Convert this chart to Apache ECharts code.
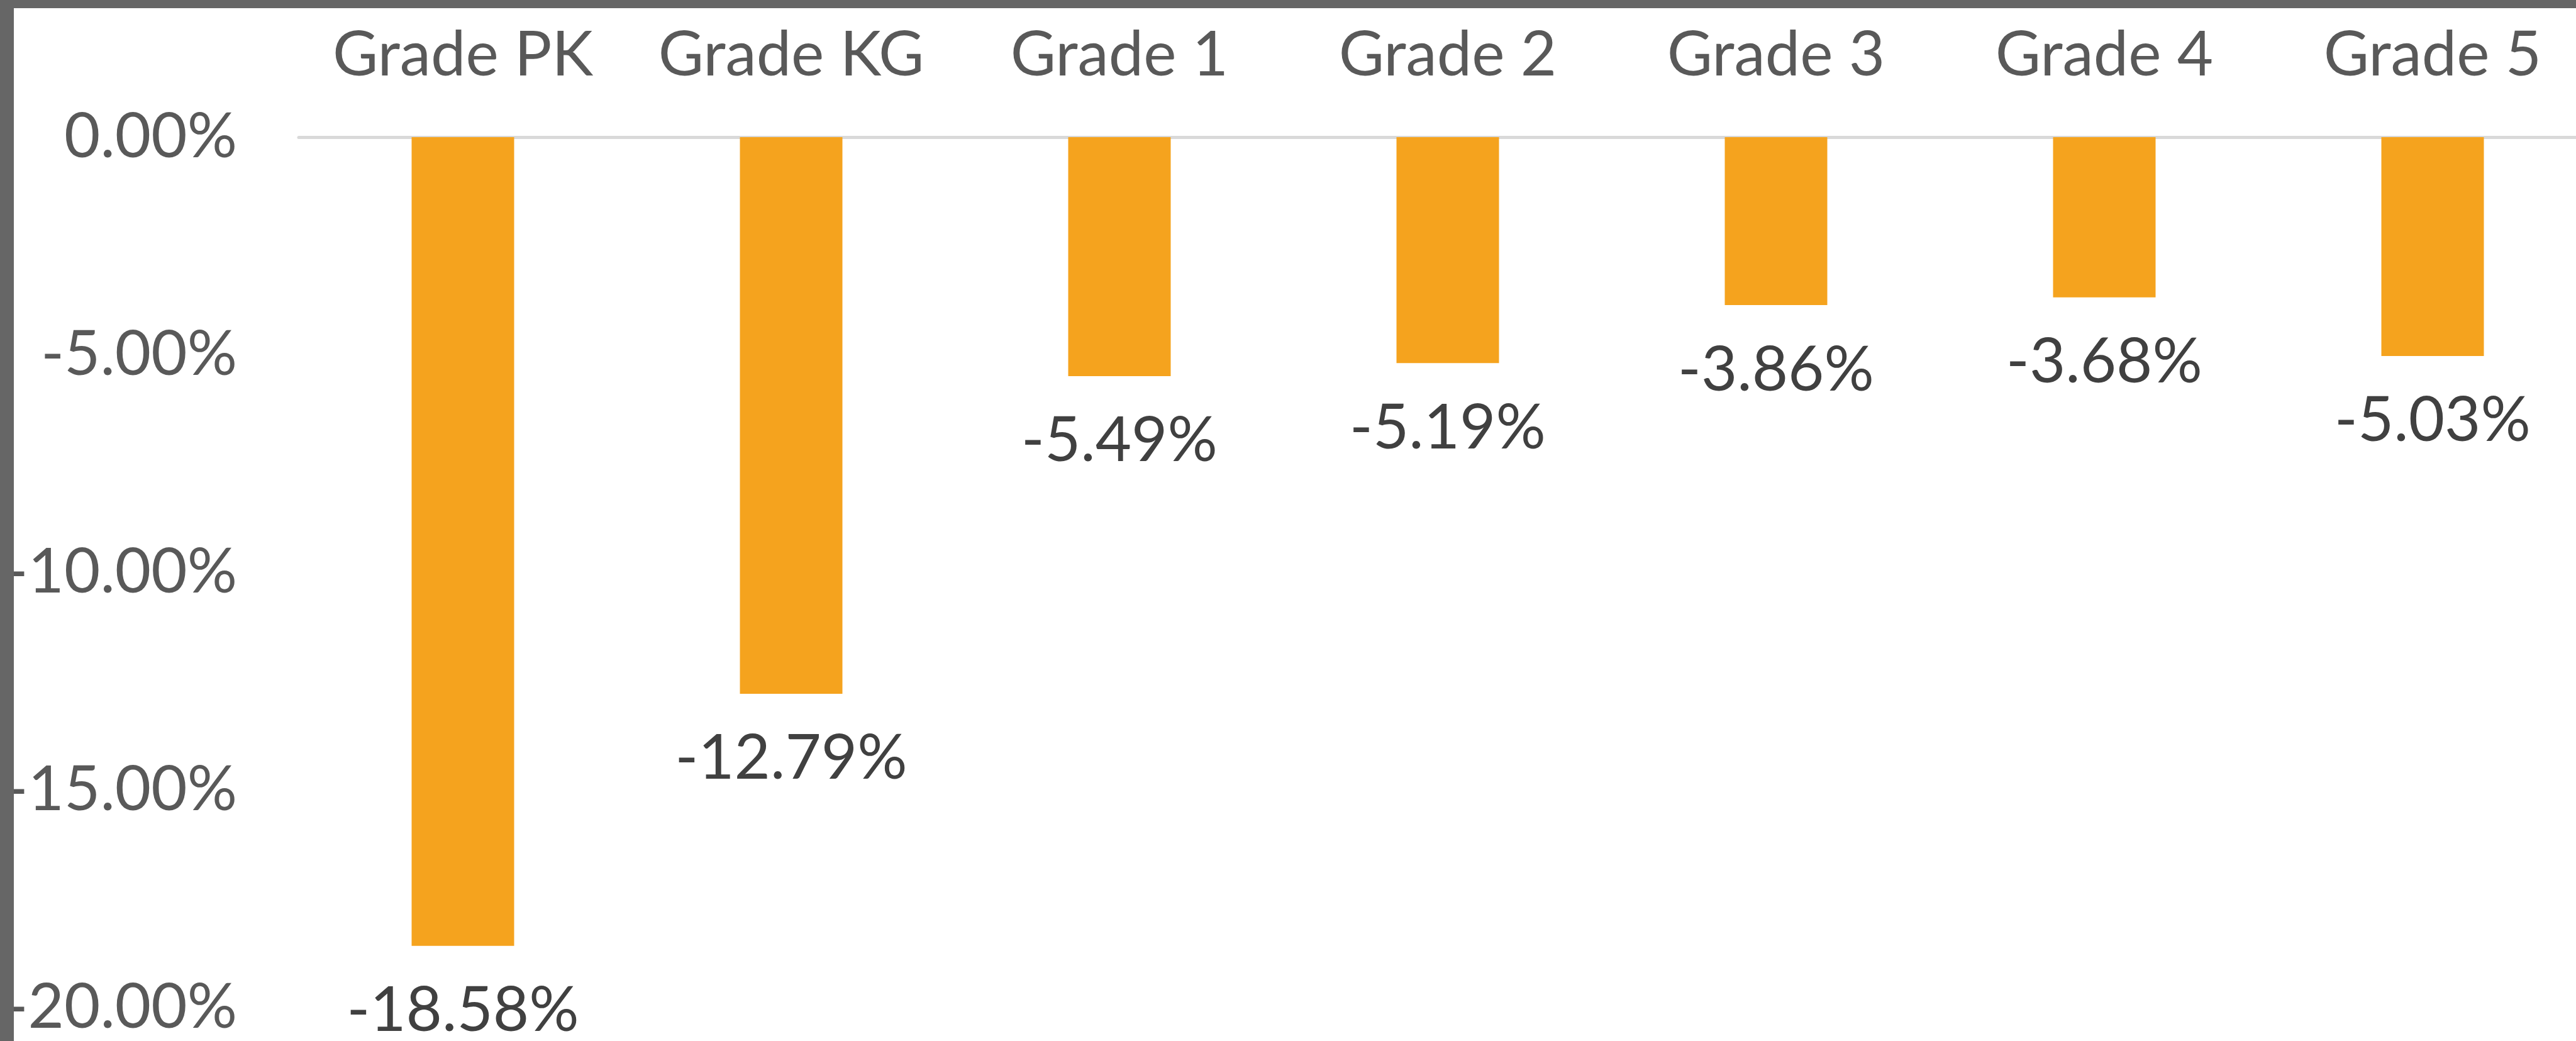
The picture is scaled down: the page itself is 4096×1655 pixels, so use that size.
<!DOCTYPE html>
<html>
<head>
<meta charset="utf-8">
<script src="https://cdn.jsdelivr.net/npm/echarts@6/dist/echarts.min.js"></script>
<style>
  html, body { margin: 0; padding: 0; background: #ffffff; overflow: hidden; }
  /* 图表比窗口宽一点，最后一个分类在右边被裁掉 */
  #chart { width: 4160px; height: 1655px; }
</style>
</head>
<body>
<div id="chart"></div>
<script>
// 数据
var grades = ['Grade PK', 'Grade KG', 'Grade 1', 'Grade 2', 'Grade 3', 'Grade 4', 'Grade 5'];
var changePct = [-18.58, -12.79, -5.49, -5.19, -3.86, -3.68, -5.03];
var yMin = -20;
var yMax = 0;
var yStep = 5;

var chart = echarts.init(document.getElementById('chart'));

var font = 'Lato';

var option = {
    backgroundColor: '#ffffff',
    animation: false,
    graphic: [
        // 左边和上边的灰色边框
        { type: 'rect', left: 0, top: 0, shape: { width: 22, height: 1655 }, style: { fill: '#666666' }, z: 10 },
        { type: 'rect', left: 0, top: 0, shape: { width: 4160, height: 13 }, style: { fill: '#666666' }, z: 10 }
    ],
    grid: {
        left: 475,
        top: 218,
        width: 3654,
        height: 1384
    },
    xAxis: {
        type: 'category',
        position: 'top',
        data: grades,
        axisLine: { lineStyle: { color: '#d9d9d9', width: 5 } },
        axisTick: { show: false },
        axisLabel: {
            interval: 0,
            margin: 80,
            color: '#595959',
            fontFamily: font,
            fontSize: 99,
            lineHeight: 99
        }
    },
    yAxis: {
        type: 'value',
        min: yMin,
        max: yMax,
        interval: yStep,
        axisLine: { show: false },
        axisTick: { show: false },
        splitLine: { show: false },
        axisLabel: {
            margin: 98,
            color: '#595959',
            fontFamily: font,
            fontSize: 99,
            lineHeight: 99,
            formatter: function (v) { return v.toFixed(2) + '%'; }
        }
    },
    series: [{
        type: 'bar',
        data: changePct,
        barWidth: 163,
        itemStyle: { color: '#f5a31e' },
        label: {
            show: true,
            position: 'bottom',
            distance: 54,
            color: '#404040',
            fontFamily: font,
            fontSize: 99,
            lineHeight: 99,
            formatter: function (p) { return p.value.toFixed(2) + '%'; }
        }
    }]
};

chart.setOption(option);
</script>
</body>
</html>
